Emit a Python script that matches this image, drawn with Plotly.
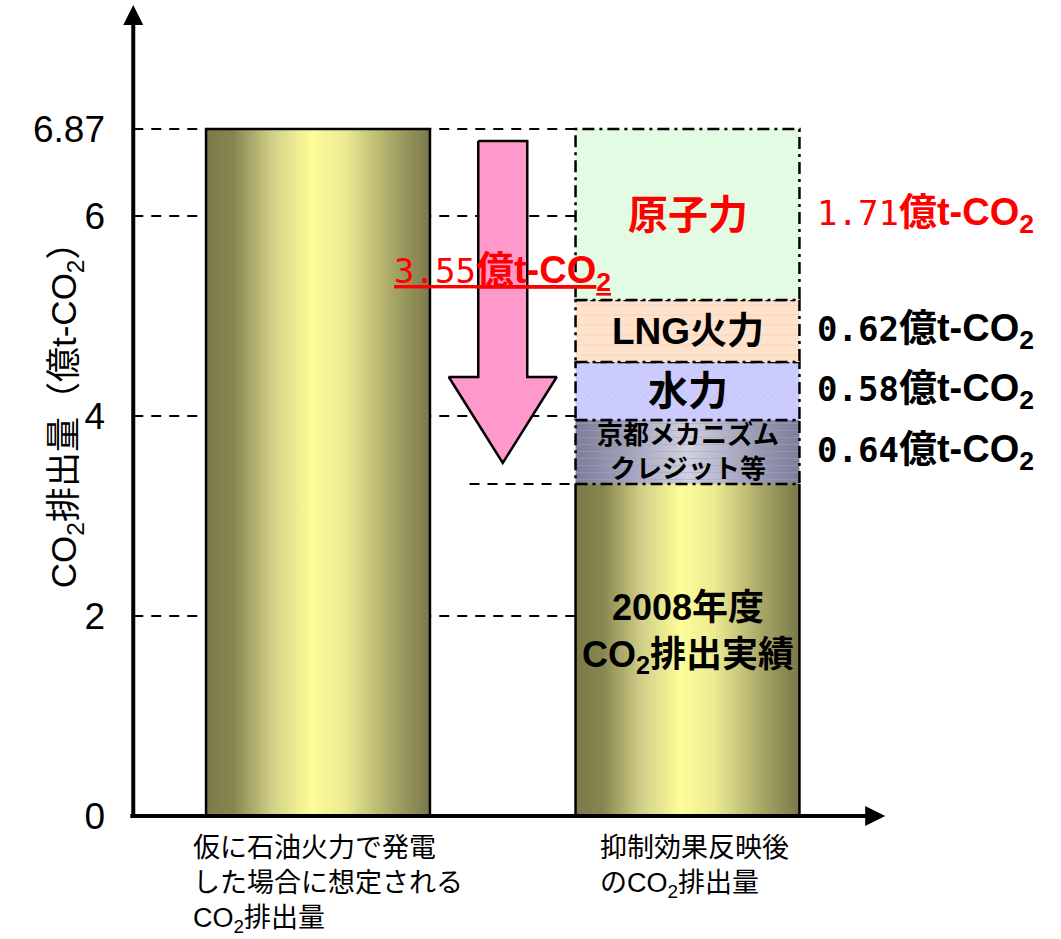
import plotly.graph_objects as go

# ---------------- data ----------------
categories = ["仮に石油火力で発電<br>した場合に想定される<br>CO<sub>2</sub>排出量",
              "抑制効果反映後<br>のCO<sub>2</sub>排出量"]
category_x = [0, 1]
oil_case_total = 6.87          # 億t-CO2
actual_2008 = 3.32             # 億t-CO2 (2008年度 CO2排出実績)
segment_names = ["京都メカニズム<br>クレジット等", "水力", "LNG火力", "原子力"]
segment_values = [0.64, 0.58, 0.62, 1.71]
total_reduction = 3.55
ytick_vals = [0, 2, 4, 6, 6.87]
ytick_text = ["0", "2", "4", "6", "6.87"]
grid_vals = [2, 4, 6, 6.87]
base_label = "2008年度<br>CO<sub>2</sub>排出実績"
y_title = "CO<sub>2</sub>排出量（億t-CO<sub>2</sub>）"

# ---------------- style ----------------
BW = 0.606
XR = [-0.5142, 2.0108]
YR = [-0.05, 8.16]
AXIS_X = -0.5
FONT = "Liberation Sans, Arial, Noto Sans CJK JP, sans-serif"
MONO = "DejaVu Sans Mono"
DASHDOT = "12px,5px,3px,5px"
GRIDDASH = "10px,8px"
CAT_XSHIFT = [-127, -90]

olive = [[0, '#7b794a'], [0.12, '#87854f'], [0.3, '#d3d189'], [0.47, '#fdfd99'],
         [0.62, '#eceb92'], [0.85, '#a3a163'], [1, '#7a7849']]
gray = [[0, '#7e7e94'], [0.2, '#9c9cb0'], [0.5, '#d2d2dc'], [0.8, '#9c9cb0'], [1, '#7e7e94']]

seg_styles = [
    dict(kind='gradient', colorscale=gray, pattern=dict(shape='-', fgcolor='#9a9aff', bgcolor='rgba(0,0,0,0)', size=7, solidity=0.15), font=26, color='black'),
    dict(kind='flat', fill='#ccccff', pattern=dict(shape='x', fgcolor='#bcbcf2', bgcolor='#ccccff', size=5, solidity=0.2), font=40, color='black'),
    dict(kind='flat', fill='#ffe2cc', pattern=dict(shape='-', fgcolor='#f7c9a2', bgcolor='#ffe2cc', size=10, solidity=0.12), font=37, color='black'),
    dict(kind='flat', fill='#e2fbe2', pattern=None, font=40, color='red'),
]


def rect(xc, y0, y1):
    xl, xr = xc - BW / 2, xc + BW / 2
    return [xl, xr, xr, xl, xl], [y0, y0, y1, y1, y0]


def value_label(v, bold_digits):
    digits = f"{v:.2f}"
    dspan = f'<span style="font-family:{MONO};font-size:34px">{digits}</span>'
    if bold_digits:
        dspan = f"<b>{dspan}</b>"
    return f'{dspan}<b>億t-CO<sub>2</sub></b>'


fig = go.Figure()

# dashed reference lines
for g in grid_vals:
    fig.add_shape(type='line', xref='x', yref='y', x0=AXIS_X, x1=category_x[1] - BW / 2, y0=g, y1=g,
                  line=dict(color='black', width=2, dash=GRIDDASH), layer='below')
fig.add_shape(type='line', xref='x', yref='y', x0=0.41, x1=category_x[1] - BW / 2,
              y0=actual_2008, y1=actual_2008, line=dict(color='black', width=2, dash=GRIDDASH), layer='below')

# left bar (oil case)
x, y = rect(category_x[0], 0, oil_case_total)
fig.add_trace(go.Scatter(x=x, y=y, mode='lines', fill='toself',
                         fillgradient=dict(type='horizontal', colorscale=olive),
                         line=dict(color='black', width=2.5), hoverinfo='skip', showlegend=False))

# right bar base (2008 actual)
x, y = rect(category_x[1], 0, actual_2008)
fig.add_trace(go.Scatter(x=x, y=y, mode='lines', fill='toself',
                         fillgradient=dict(type='horizontal', colorscale=olive),
                         line=dict(width=0), hoverinfo='skip', showlegend=False))
xl, xr = category_x[1] - BW / 2, category_x[1] + BW / 2
fig.add_trace(go.Scatter(x=[xl, xl, None, xr, xr], y=[0, actual_2008, None, 0, actual_2008], mode='lines',
                         line=dict(color='black', width=2.5), hoverinfo='skip', showlegend=False))

# stacked reduction segments
bottom = actual_2008
seg_centers = []
for name, v, st in zip(segment_names, segment_values, seg_styles):
    top = bottom + v
    x, y = rect(category_x[1], bottom, top)
    if st['kind'] == 'gradient':
        fig.add_trace(go.Scatter(x=x, y=y, mode='lines', fill='toself',
                                 fillgradient=dict(type='horizontal', colorscale=st['colorscale']),
                                 line=dict(width=0), hoverinfo='skip', showlegend=False))
        fig.add_trace(go.Scatter(x=x, y=y, mode='lines', fill='toself', fillcolor='rgba(0,0,0,0)',
                                 fillpattern=st['pattern'],
                                 line=dict(color='black', width=2.5, dash=DASHDOT), hoverinfo='skip', showlegend=False))
    else:
        kw = dict(fillpattern=st['pattern']) if st['pattern'] else {}
        fig.add_trace(go.Scatter(x=x, y=y, mode='lines', fill='toself', fillcolor=st['fill'],
                                 line=dict(color='black', width=2.5, dash=DASHDOT),
                                 hoverinfo='skip', showlegend=False, **kw))
    seg_centers.append((bottom + top) / 2)
    bottom = top

# reduction arrow
ax_c = (category_x[0] + category_x[1]) / 2
sw, hw = 0.0663, 0.146
a_top = oil_case_total - 0.12
a_tip = actual_2008 + 0.21
a_hb = a_tip + 0.86
fig.add_trace(go.Scatter(
    x=[ax_c - sw, ax_c + sw, ax_c + sw, ax_c + hw, ax_c, ax_c - hw, ax_c - sw, ax_c - sw],
    y=[a_top, a_top, a_hb, a_hb, a_tip, a_hb, a_hb, a_top],
    mode='lines', fill='toself', fillcolor='#ff99cc', line=dict(color='black', width=2.5),
    hoverinfo='skip', showlegend=False))

# axes with arrows
fig.add_annotation(x=1.535, y=0, ax=AXIS_X - 0.012, ay=0, xref='x', yref='y', axref='x', ayref='y', text='',
                   showarrow=True, arrowhead=2, arrowwidth=4, arrowsize=1, arrowcolor='black')
fig.add_annotation(x=AXIS_X, y=8.11, ax=AXIS_X, ay=-0.03, xref='x', yref='y', axref='x', ayref='y', text='',
                   showarrow=True, arrowhead=2, arrowwidth=4, arrowsize=1, arrowcolor='black')

# segment labels inside
for name, c, st in zip(segment_names, seg_centers, seg_styles):
    fig.add_annotation(x=category_x[1], y=c, text=f"<b>{name}</b>", showarrow=False,
                       font=dict(size=st['font'], color=st['color'], family=FONT))
fig.add_annotation(x=category_x[1], y=actual_2008 * 0.55, text=f"<b>{base_label}</b>", showarrow=False,
                   font=dict(size=36, color='black', family=FONT))

# value labels at right
for v, c, st in zip(segment_values, seg_centers, seg_styles):
    fig.add_annotation(x=1.345, y=c, xanchor='left', text=value_label(v, st['color'] == 'black'),
                       showarrow=False, font=dict(size=38, color=st['color'], family=FONT))

# total reduction label
fig.add_annotation(x=ax_c, y=5.43, text=f"<u>{value_label(total_reduction, False)}</u>",
                   showarrow=False, font=dict(size=38, color='red', family=FONT))

# category labels (below the axis)
for cx, cat, xs in zip(category_x, categories, CAT_XSHIFT):
    fig.add_annotation(x=cx, xref='x', xshift=xs, y=-0.012, yref='paper', yanchor='top', xanchor='left',
                       align='left', text=cat, showarrow=False,
                       font=dict(size=27, color='black', family=FONT))

# y-axis title
fig.add_annotation(xref='paper', x=-0.092, yref='y', y=4.1, text=y_title, textangle=-90,
                   showarrow=False, font=dict(size=35, color='black', family=FONT))

fig.update_layout(
    width=1061, height=939,
    margin=dict(l=128, r=0, t=0, b=118),
    paper_bgcolor='white', plot_bgcolor='white',
    showlegend=False,
    font=dict(family=FONT, color='black'),
    xaxis=dict(range=XR, showgrid=False, zeroline=False, showline=False, showticklabels=False, fixedrange=True),
    yaxis=dict(range=YR, showgrid=False, zeroline=False, showline=False, tickvals=ytick_vals, ticktext=ytick_text,
               tickfont=dict(size=37, color='black', family=FONT), ticks='', ticklabelstandoff=22, fixedrange=True),
)

fig.write_html("out.html")
